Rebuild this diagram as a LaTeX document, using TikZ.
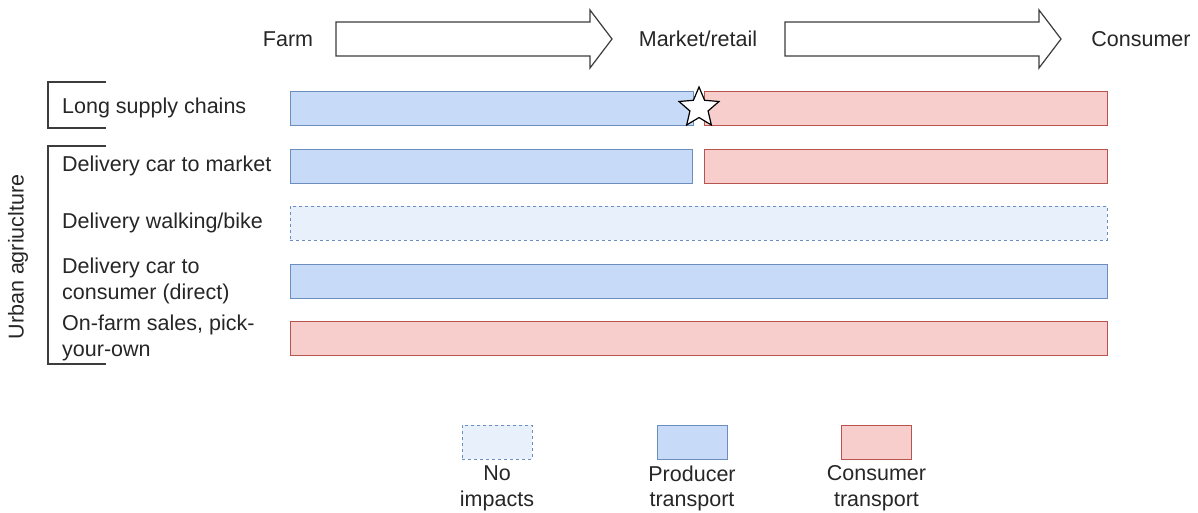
\documentclass[tikz,border=0pt]{standalone}
\usepackage{fontspec}
\setmainfont{Liberation Sans}
\usepackage{tikz}
\usetikzlibrary{positioning}
\usetikzlibrary{shapes.geometric}

\definecolor{prodfill}{RGB}{199,219,248}
\definecolor{prodline}{RGB}{108,142,191}
\definecolor{consfill}{RGB}{248,206,204}
\definecolor{consline}{RGB}{184,84,80}
\definecolor{noimpfill}{RGB}{232,240,251}
\definecolor{inkgray}{RGB}{60,60,60}

\begin{document}
\begin{tikzpicture}
  [
    x=1pt,y=-1pt,
    every node/.style={font=\fontsize{21.5}{25.5}\selectfont, text=black!85},
    bar/.style={
      rectangle,
      inner sep=0pt,
      line width=1pt,
      minimum height=34pt
    },
    prod/.style={
      bar,
      draw=prodline,
      fill=prodfill
    },
    cons/.style={
      bar,
      draw=consline,
      fill=consfill
    },
    noimp/.style={
      bar,
      draw=prodline,
      fill=noimpfill,
      dash pattern=on 3pt off 3pt
    },
    stage/.style={
      draw=inkgray,
      fill=white,
      line width=1.2pt
    },
    rowlabel/.style={
      anchor=west,
      align=left,
      inner sep=0pt
    },
    legendlabel/.style={
      align=center,
      inner sep=0pt
    }
  ]
  \useasboundingbox (0,0) rectangle (1198,512);
  % stages
  \draw [stage] (336,22) -- (590,22) -- (590,10) -- (612,39) -- (590,68) -- (590,56) -- (336,56) -- cycle;
  \draw [stage] (785,22) -- (1039,22) -- (1039,10) -- (1061,39) -- (1039,68) -- (1039,56) -- (785,56) -- cycle;
  \node [inner sep=0pt] (farm) at (288,39) {Farm};
  \node [inner sep=0pt] (market) at (698,39) {Market/retail};
  \node [inner sep=0pt] (consumer) at (1141,39) {Consumer};
  % brackets
  \draw [inkgray,line width=1.2pt] (106,82) -- (48,82) -- (48,128) -- (106,128);
  \draw [inkgray,line width=1.2pt] (106,146) -- (48,146) -- (48,364) -- (106,364);
  \node [rotate=90,inner sep=0pt] (urban) at (18,257) {Urban agriuclture};
  % rows
  \node [rowlabel] (lsc) at (62,108) {Long supply chains};
  \node [rowlabel] (carmarket) at (62,166) {Delivery car to market};
  \node [rowlabel] (walkbike) at (62,223) {Delivery walking/bike};
  \node [rowlabel] (carcons) at (62,281) {Delivery car to\\consumer (direct)};
  \node [rowlabel] (onfarm) at (62,338) {On-farm sales, pick-\\your-own};
  % bars
  \node [prod,minimum width=403pt] (lsc-p) at (491.5,108) {};
  \node [cons,minimum width=403pt] (lsc-c) at (905.5,108) {};
  \node [star,star points=5,star point ratio=2.2,minimum size=42pt,inner sep=0pt,draw=black,fill=white,line width=1.2pt] (retail) at (699,108) {};
  \node [prod,minimum width=402pt] (carmarket-p) at (491,166) {};
  \node [cons,minimum width=403pt] (carmarket-c) at (905.5,166) {};
  \node [noimp,minimum width=817pt] (walkbike-n) at (698.5,223) {};
  \node [prod,minimum width=817pt] (carcons-p) at (698.5,281) {};
  \node [cons,minimum width=817pt] (onfarm-c) at (698.5,338) {};
  % legend
  \node [noimp,minimum width=70pt] (key-n) at (497,442) {};
  \node [prod,minimum width=70pt] (key-p) at (692,442) {};
  \node [cons,minimum width=70pt] (key-c) at (876.5,442) {};
  \node [legendlabel,below=6pt of key-n] (key-n-txt) {No\\impacts};
  \node [legendlabel,below=6pt of key-p] (key-p-txt) {Producer\\transport};
  \node [legendlabel,below=6pt of key-c] (key-c-txt) {Consumer\\transport};
\end{tikzpicture}
\end{document}
